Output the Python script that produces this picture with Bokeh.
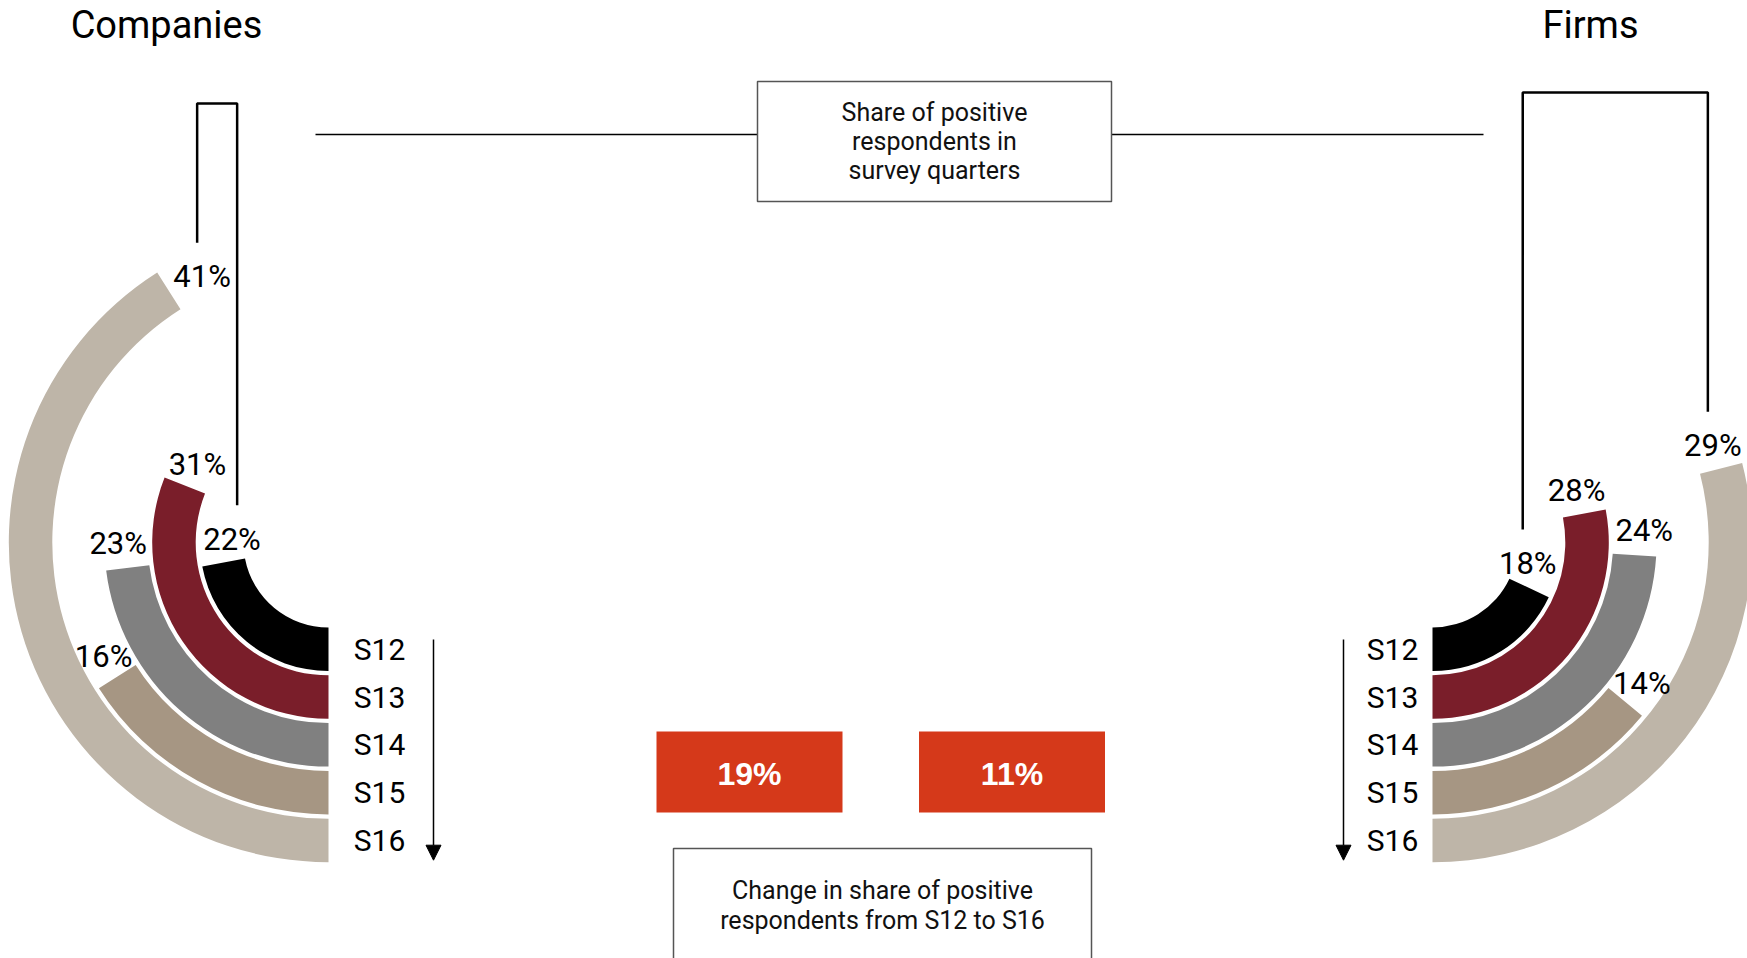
import math
from bokeh.plotting import figure
from bokeh.models import Range1d, Arrow, NormalHead, ColumnDataSource
from bokeh.core.properties import value
from bokeh.embed import file_html
from bokeh.resources import INLINE

# ---------------- data ----------------
quarters = ["S12", "S13", "S14", "S15", "S16"]
companies = [22, 31, 23, 16, 41]
firms = [18, 28, 24, 14, 29]
ring_colors = ["#000000", "#7a1e2a", "#808080", "#a69683", "#beb5a8"]
panel_titles = ["Companies", "Firms"]
top_note = ["Share of positive", "respondents in", "survey quarters"]
bottom_note = ["Change in share of positive", "respondents from S12 to S16"]
change_color = "#d5391a"

# ---------------- layout (page pixels) ----------------
W, H = 1747, 958
PX0, PY0 = 0, 0
FONT = "Roboto"


def Y(py):
    return -py


p = figure(width=W, height=H,
           x_range=Range1d(PX0, PX0 + W), y_range=Range1d(-(PY0 + H), -PY0),
           output_backend="svg", toolbar_location=None,
           x_axis_type=None, y_axis_type=None, min_border=0)
p.outline_line_color = None
p.background_fill_color = "white"

R0, STEP, THICK = 85.0, 47.8, 43.5
LAB_HW = 32

panels = [
    dict(vals=companies, title=panel_titles[0], side=-1, cx=328.0, cy=542.0,
         title_x=166, title_y=24, slab_dx=51, arrow_dx=105, bracket_top=103),
    dict(vals=firms, title=panel_titles[1], side=1, cx=1432.0, cy=542.0,
         title_x=1590, title_y=24, slab_dx=-40, arrow_dx=-89, bracket_top=92),
]


def ring(i):
    inner = R0 + STEP * i
    return inner, inner + THICK


def occupied(px, py, pn):
    dx, dy = px - pn["cx"], py - pn["cy"]
    r = math.hypot(dx, dy)
    th = math.atan2(pn["side"] * dx, dy)
    if th < 0:
        th += 2 * math.pi
    for i, v in enumerate(pn["vals"]):
        ri, ro = ring(i)
        if ri - 1.5 <= r <= ro + 1.5 and th <= 2 * math.pi * v / 100 + 0.01:
            return True
    return False


def place_label(i, pn):
    ri, ro = ring(i)
    rm = (ri + ro) / 2
    th = 2 * math.pi * pn["vals"][i] / 100
    hw, hh = LAB_HW, 13
    cands = []
    for t in range(28, 52, 2):
        for dr in range(-44, 45, 2):
            cands.append((abs(dr) + 0.5 * (t - 28), t, dr))
    cands.sort()
    for _, t, dr in cands:
        thl = th + t / rm
        r = rm + dr
        x = pn["cx"] + pn["side"] * r * math.sin(thl)
        y = pn["cy"] + r * math.cos(thl)
        ok = True
        for a in range(9):
            for b in range(5):
                sx = x - hw + 2 * hw * a / 8
                sy = y - hh + 2 * hh * b / 4
                if occupied(sx, sy, pn):
                    ok = False
                    break
            if not ok:
                break
        if ok:
            return x, y
    thl = th + 28 / rm
    return pn["cx"] + pn["side"] * rm * math.sin(thl), pn["cy"] + rm * math.cos(thl)


for pn in panels:
    side, cx, cy = pn["side"], pn["cx"], pn["cy"]
    xs, ys, inn, out, st, en, col = [], [], [], [], [], [], []
    for i, v in enumerate(pn["vals"]):
        ri, ro = ring(i)
        sweep = 2 * math.pi * v / 100
        xs.append(cx); ys.append(Y(cy)); inn.append(ri); out.append(ro); col.append(ring_colors[i])
        if side < 0:
            st.append(-math.pi / 2 - sweep); en.append(-math.pi / 2)
        else:
            st.append(-math.pi / 2); en.append(-math.pi / 2 + sweep)
    src = ColumnDataSource(dict(x=xs, y=ys, inner=inn, outer=out, start=st, end=en, color=col))
    p.annular_wedge(x="x", y="y", inner_radius="inner", outer_radius="outer",
                    start_angle="start", end_angle="end", fill_color="color",
                    line_color=None, source=src)

    # value labels
    labs = [place_label(i, pn) for i in range(len(pn["vals"]))]
    p.text(x=[l[0] for l in labs], y=[Y(l[1] + 4) for l in labs],
           text=[f"{v}%" for v in pn["vals"]], text_align="center", text_baseline="middle",
           text_font=value(FONT), text_font_size=value("31px"), text_color="black")

    # bracket connecting first and last quarter labels (legs never cross a label)
    a, b = labs[0], labs[-1]
    top = pn["bracket_top"]
    xa, xb = a[0] - 5, b[0] - 5
    if abs(xa - b[0]) < LAB_HW + 3:
        xa = b[0] - side * (LAB_HW + 3)
    p.line(x=[xa, xa, xb, xb],
           y=[Y(a[1] - 30), Y(top), Y(top), Y(b[1] - 30)],
           line_color="black", line_width=2.5)

    # quarter labels
    sx = [cx + pn["slab_dx"]] * len(quarters)
    sy = [Y(cy + (ring(i)[0] + ring(i)[1]) / 2) for i in range(len(quarters))]
    p.text(x=sx, y=sy, text=quarters, text_align="center", text_baseline="middle",
           text_font=value(FONT), text_font_size=value("30px"), text_color="black")

    # time arrow
    ax = cx + pn["arrow_dx"]
    p.add_layout(Arrow(x_start=ax, y_start=Y(cy + ring(0)[0] + 12), x_end=ax,
                       y_end=Y(cy + ring(4)[1] - 2), line_color="black", line_width=1.5,
                       end=NormalHead(size=15, fill_color="black", line_color="black")))

    # panel title
    p.text(x=[pn["title_x"]], y=[Y(pn["title_y"])], text=[pn["title"]],
           text_align="center", text_baseline="middle",
           text_font=value(FONT), text_font_size=value("38px"), text_color="black")

    # change box
    change = pn["vals"][-1] - pn["vals"][0]
    bx = 749 if side < 0 else 1011.5
    p.rect(x=[bx], y=[Y(771.5)], width=186, height=81, fill_color=change_color, line_color=None)
    p.text(x=[bx], y=[Y(773)], text=[f"{change}%"], text_align="center", text_baseline="middle",
           text_font=value("Liberation Sans"), text_font_style="bold",
           text_font_size=value("32px"), text_color="white")

# top note box and connectors
p.line(x=[315, 757], y=[Y(134), Y(134)], line_color="black", line_width=1.5)
p.line(x=[1111, 1483], y=[Y(134), Y(134)], line_color="black", line_width=1.5)
p.quad(left=[757], right=[1111], top=[Y(81)], bottom=[Y(201)], fill_color="white",
       line_color="#555555", line_width=1.5)
p.text(x=[934] * 3, y=[Y(112), Y(141), Y(170)], text=top_note, text_align="center",
       text_baseline="middle", text_font=value(FONT), text_font_size=value("25px"),
       text_color="#111111")

# bottom note box
p.quad(left=[673], right=[1091], top=[Y(848)], bottom=[Y(990)], fill_color="white",
       line_color="#555555", line_width=1.5)
p.text(x=[882] * 2, y=[Y(890), Y(920)], text=bottom_note, text_align="center",
       text_baseline="middle", text_font=value(FONT), text_font_size=value("25px"),
       text_color="#111111")

open("out.html", "w").write(file_html(p, INLINE))
